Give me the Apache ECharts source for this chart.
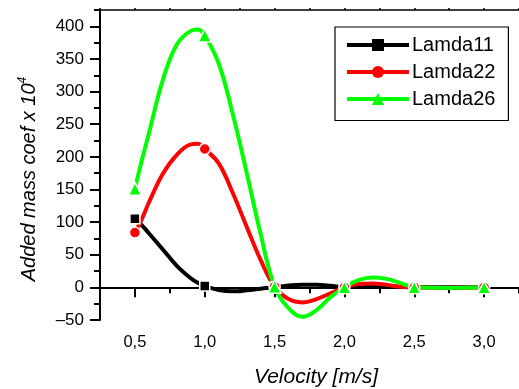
<!DOCTYPE html>
<html>
<head>
<meta charset="utf-8">
<script src="https://cdn.jsdelivr.net/npm/echarts@6/dist/echarts.min.js"></script>
<style>html,body{margin:0;padding:0;background:#fff}#c{width:519px;height:389px}</style>
</head>
<body>
<div id="c"></div>
<script>
// measured data points (markers)
var velocity = [0.5, 1.0, 1.5, 2.0, 2.5, 3.0];
var lamda11 = [105, 2, 0, 0, 0, 0];
var lamda22 = [84, 212, 1, 0, 0, 0];
var lamda26 = [151, 386, 1, 0, 0, 0];
// fitted spline curve (no markers)
var curveX = [0.55, 0.6, 0.7, 0.8, 0.9, 0.95, 1.1, 1.2, 1.3, 1.4, 1.6, 1.7, 1.8, 1.9, 2.1, 2.2, 2.3, 2.4, 2.75];
var lamda11Curve = [95, 83, 58, 33, 14, 7, -4, -6, -4.5, -2, 3, 4, 4, 2.5, 1.5, 2, 1.5, 0.5, 0];
var lamda22Curve = [105, 130, 174, 203, 219, 220, 190, 145, 93, 42, -18, -23, -18, -9, 5, 6, 4, 1, -1];
var lamda26Curve = [195, 236, 318, 372, 393, 395, 343, 266, 176, 82, -32, -45, -35, -15, 11, 15, 13, 7, -1];
// tick values
var xMajorTicks = [0.5, 1.0, 1.5, 2.0, 2.5, 3.0];
var xMinorTicks = [0.25, 0.75, 1.25, 1.75, 2.25, 2.75, 3.25];
var yMajorTicks = [-50, 0, 50, 100, 150, 200, 250, 300, 350, 400];
var yMinorTicks = [-25, 25, 75, 125, 175, 225, 275, 325, 375, 425];

function buildData(marks, curve) {
  var d = velocity.map(function (v, i) { return { value: [v, marks[i]] }; });
  curveX.forEach(function (v, i) { d.push({ value: [v, curve[i]], symbol: 'none' }); });
  d.sort(function (a, b) { return a.value[0] - b.value[0]; });
  return d;
}

var chart = echarts.init(document.getElementById('c'));
var font = 'Liberation Sans, Arial, sans-serif';
var xBase = { type: 'value', min: 0.25, max: 3.25, splitLine: { show: false } };
var yBase = { type: 'value', min: -50, max: 425, splitLine: { show: false } };
function mkSeries(name, marks, curve, color, symbol, size) {
  return {
    name: name, type: 'line', data: buildData(marks, curve), smooth: 0.4,
    symbol: symbol, symbolSize: size, showAllSymbol: true,
    lineStyle: { color: color, width: 4 },
    itemStyle: { color: color, borderColor: '#fff', borderWidth: 1.5 },
    emphasis: { disabled: true }, z: 3
  };
}
chart.setOption({
  animation: false,
  backgroundColor: '#fff',
  grid: { left: 100, right: -7, top: 10, bottom: 69, containLabel: false },
  xAxis: [
    Object.assign({}, xBase, {
      position: 'bottom',
      axisLine: { show: true, lineStyle: { color: '#000', width: 2 } },
      axisTick: { show: true, length: 10, customValues: xMajorTicks, lineStyle: { color: '#000', width: 2 } },
      axisLabel: { customValues: xMajorTicks, margin: 14, color: '#000', fontSize: 16.5, fontFamily: font,
        formatter: function (v) { return v.toFixed(1).replace('.', ','); } }
    }),
    Object.assign({}, xBase, {
      position: 'bottom',
      axisLine: { show: false },
      axisTick: { show: true, length: 6, customValues: xMinorTicks, lineStyle: { color: '#000', width: 2 } },
      axisLabel: { show: false }
    }),
    Object.assign({}, xBase, {
      position: 'top',
      axisLine: { show: true, lineStyle: { color: '#000', width: 1.5 } },
      axisTick: { show: true, length: 2, customValues: xMinorTicks.concat(xMajorTicks), lineStyle: { color: '#000', width: 1.5 } },
      axisLabel: { show: false }
    })
  ],
  yAxis: [
    Object.assign({}, yBase, {
      position: 'left',
      axisLine: { show: true, lineStyle: { color: '#000', width: 2 } },
      axisTick: { show: true, length: 10, customValues: yMajorTicks, lineStyle: { color: '#000', width: 2 } },
      axisLabel: { customValues: yMajorTicks, margin: 16, color: '#000', fontSize: 17, fontFamily: font,
        formatter: function (v) { return v < 0 ? '\u2013' + Math.abs(v) : String(v); } }
    }),
    Object.assign({}, yBase, {
      position: 'left',
      axisLine: { show: false },
      axisTick: { show: true, length: 6, customValues: yMinorTicks, lineStyle: { color: '#000', width: 2 } },
      axisLabel: { show: false }
    })
  ],
  legend: {
    orient: 'vertical', left: 335, top: 27,
    itemWidth: 62, itemHeight: 15, itemGap: 7, padding: [8, 13, 11.5, 10],
    borderColor: '#000', borderWidth: 1.2,
    lineStyle: { width: 4 },
    itemStyle: { borderWidth: 0 },
    textStyle: { color: '#000', fontSize: 20, fontFamily: font, padding: [0, 0, 0, -2] },
    data: ['Lamda11', 'Lamda22', 'Lamda26']
  },
  graphic: [
    { type: 'text', x: 28, y: 179, rotation: Math.PI / 2, silent: true,
      style: { text: '{a|Added mass coef x 10}{s|4}', align: 'center', verticalAlign: 'middle',
        rich: { a: { fontSize: 20, fontStyle: 'italic', fontFamily: font, fill: '#000', verticalAlign: 'bottom' },
                s: { fontSize: 12, fontStyle: 'italic', fontFamily: font, fill: '#000', verticalAlign: 'top', padding: [0, 0, 10, 0] } } } },
    { type: 'text', x: 316, y: 377, silent: true,
      style: { text: 'Velocity [m/s]', fontSize: 21, fontStyle: 'italic', fontFamily: font, fill: '#000', align: 'center', verticalAlign: 'middle' } }
  ],
  series: [
    mkSeries('Lamda11', lamda11, lamda11Curve, '#000000', 'rect', 10),
    mkSeries('Lamda22', lamda22, lamda22Curve, '#ff0000', 'circle', 11),
    mkSeries('Lamda26', lamda26, lamda26Curve, '#00ff00', 'triangle', 13)
  ]
});
</script>
</body>
</html>
